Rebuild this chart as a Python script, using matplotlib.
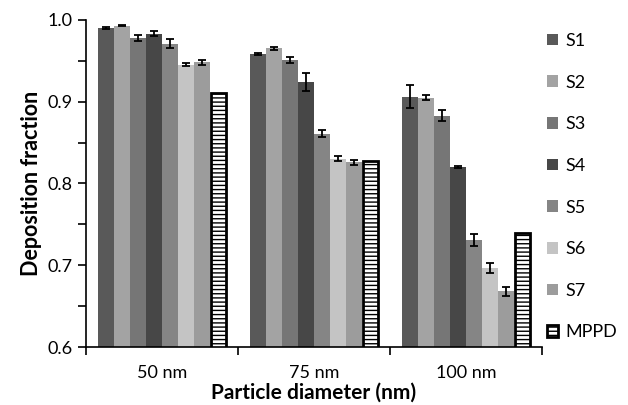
import matplotlib
matplotlib.use("Agg")
import matplotlib.pyplot as plt
import numpy as np

categories = ["50 nm", "75 nm", "100 nm"]
series_names = ["S1", "S2", "S3", "S4", "S5", "S6", "S7"]
series_colors = ["#595959", "#a3a3a3", "#767676", "#474747", "#858585", "#c4c4c4", "#9c9c9c"]

values = {
    "S1": [0.990, 0.958, 0.906],
    "S2": [0.993, 0.965, 0.905],
    "S3": [0.978, 0.951, 0.883],
    "S4": [0.983, 0.924, 0.820],
    "S5": [0.971, 0.861, 0.731],
    "S6": [0.945, 0.830, 0.697],
    "S7": [0.948, 0.826, 0.668],
}
errors = {
    "S1": [0.001, 0.001, 0.014],
    "S2": [0.001, 0.002, 0.003],
    "S3": [0.004, 0.004, 0.007],
    "S4": [0.003, 0.011, 0.001],
    "S5": [0.005, 0.004, 0.007],
    "S6": [0.002, 0.003, 0.006],
    "S7": [0.003, 0.003, 0.006],
}
mppd = [0.910, 0.828, 0.739]

plt.rcParams["font.family"] = ["Lato", "DejaVu Sans"]
plt.rcParams["hatch.linewidth"] = 1.0

fig = plt.figure(figsize=(6.28, 4.05), dpi=100)
ax = fig.add_axes([0.137, 0.143, 0.726, 0.808])

x = np.arange(len(categories))
width = 0.106
n_bars = len(series_names) + 1
offsets = (np.arange(n_bars) - (n_bars - 1) / 2) * width

for i, name in enumerate(series_names):
    ax.bar(x + offsets[i], values[name], width, color=series_colors[i],
           label=name, zorder=2)
    ax.errorbar(x + offsets[i], values[name], yerr=errors[name], fmt="none",
                ecolor="black", elinewidth=1.3, capsize=3, capthick=1.3, zorder=3)

# MPPD model prediction: white bar with horizontal hatching
ax.bar(x + offsets[-1], mppd, width * 0.92, color="white", edgecolor="black",
       linewidth=2, hatch="----", label="MPPD", zorder=2)

ax.set_ylim(0.6, 1.0)
ax.set_xlim(-0.5, len(categories) - 0.5)
ax.set_yticks([0.6, 0.7, 0.8, 0.9, 1.0])
ax.set_yticks(np.arange(0.65, 1.0, 0.1), minor=True)
ax.yaxis.set_major_formatter(matplotlib.ticker.FormatStrFormatter("%.1f"))

# category boundaries get the tick marks, centres get the labels
ax.set_xticks(np.arange(-0.5, len(categories), 1.0))
ax.set_xticklabels([])
ax.set_xticks(x, minor=True)
ax.set_xticklabels(categories, minor=True)
ax.tick_params(axis="x", which="minor", length=0, pad=13, labelsize=13)
ax.tick_params(axis="x", which="major", length=6, width=1.2, direction="out")
ax.tick_params(axis="y", which="both", length=6, width=1.2, labelsize=13, direction="out")

for side in ["top", "right"]:
    ax.spines[side].set_visible(False)
for side in ["left", "bottom"]:
    ax.spines[side].set_linewidth(1.2)

ax.set_ylabel("Deposition fraction", fontsize=15.5, fontweight="bold", labelpad=4)
ax.set_xlabel("Particle diameter (nm)", fontsize=15, fontweight="bold", labelpad=1)

ax.legend(loc="upper left", bbox_to_anchor=(0.995, 0.982), frameon=False, fontsize=13,
          handlelength=0.6, handleheight=0.6, handletextpad=0.45, labelspacing=1.42,
          borderaxespad=0.0)

fig.savefig("out.png", dpi=100)
